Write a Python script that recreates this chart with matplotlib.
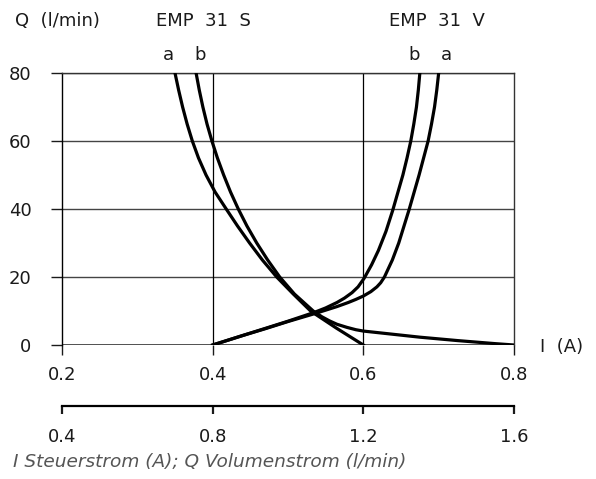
import matplotlib
matplotlib.use("Agg")
import matplotlib.pyplot as plt
from matplotlib import rcParams

rcParams.update({
    "font.family": "DejaVu Sans",
    "axes.linewidth": 1.0,
})

# EMP 31 S (falling curves), current I in A, flow Q in l/min
s_a_i = [0.350, 0.3548, 0.3601, 0.3661, 0.373, 0.3812, 0.3912, 0.4032, 0.418, 0.433, 0.449,
         0.466, 0.485, 0.507, 0.530, 0.547, 0.564, 0.582, 0.600]
s_a_q = [80, 75, 70, 65, 60, 55, 50, 45, 40, 35, 30,
         25, 20, 15, 10, 7.5, 5.0, 2.5, 0]

s_b_i = [0.378, 0.3822, 0.387, 0.3925, 0.399, 0.4063, 0.4146, 0.4237, 0.434, 0.4455, 0.4585,
         0.473, 0.489, 0.5085, 0.5335, 0.545, 0.555, 0.565, 0.578, 0.590, 0.600,
         0.625, 0.650, 0.675, 0.700, 0.725, 0.750, 0.775, 0.800]
s_b_q = [80, 75, 70, 65, 60, 55, 50, 45, 40, 35, 30,
         25, 20, 15, 10, 8.3, 7.1, 6.1, 5.2, 4.5, 4.1,
         3.5, 2.9, 2.3, 1.8, 1.3, 0.85, 0.4, 0.0]

# EMP 31 V (rising curves)
v_a_i = [0.400, 0.440, 0.470, 0.500, 0.535, 0.565, 0.580, 0.590, 0.600, 0.610, 0.618,
         0.623, 0.628, 0.6385, 0.647, 0.654, 0.661, 0.6675, 0.674, 0.680, 0.686,
         0.6905, 0.6945, 0.6975, 0.700]
v_a_q = [0.0, 2.8, 4.8, 6.9, 9.2, 11.3, 12.5, 13.4, 14.4, 15.7, 17.1,
         18.3, 20, 25, 30, 35, 40, 45, 50, 55, 60,
         65, 70, 75, 80]

v_b_i = [0.400, 0.440, 0.470, 0.500, 0.535, 0.550, 0.565, 0.575, 0.585, 0.593, 0.601,
         0.611, 0.620, 0.630, 0.639, 0.646, 0.6525, 0.658, 0.663, 0.667, 0.6705, 0.673, 0.675]
v_b_q = [0.0, 2.8, 4.9, 7.0, 9.6, 10.9, 12.5, 13.8, 15.4, 17.1, 19.6,
         23.6, 27.8, 33.4, 39.6, 45, 50, 55, 60, 65, 70, 75, 80]

x_ticks = [0.2, 0.4, 0.6, 0.8]
y_ticks = [0, 20, 40, 60, 80]
x2_ticks = [0.4, 0.8, 1.2, 1.6]

ink = "#1a1a1a"
fig = plt.figure(figsize=(5.96, 4.79), dpi=100, facecolor="white")
ax = fig.add_axes([62 / 596, 1 - 345 / 479, 452 / 596, 272 / 479])
ax.set_xlim(0.2, 0.8)
ax.set_ylim(0, 80)

for q in y_ticks[1:]:
    ax.axhline(q, color="#444444", lw=1.0, zorder=1)
for i in x_ticks[1:-1]:
    ax.axvline(i, color="black", lw=0.9, zorder=1)
ax.axhline(0, color="#333333", lw=1.2, zorder=1)

for xs, ys in [(s_a_i, s_a_q), (s_b_i, s_b_q), (v_a_i, v_a_q), (v_b_i, v_b_q)]:
    ax.plot(xs, ys, color="black", lw=2.3, solid_joinstyle="round", zorder=3)

for side in ["top", "right"]:
    ax.spines[side].set_color("#333333")
ax.spines["bottom"].set_visible(False)
ax.spines["left"].set_color("black")

ax.set_xticks(x_ticks)
ax.set_xticklabels(["0.2", "0.4", "0.6", "0.8"])
ax.set_yticks(y_ticks)
ax.tick_params(axis="x", direction="out", length=7, width=1.0, pad=8,
               labelsize=13, colors=ink)
ax.tick_params(axis="y", direction="out", length=8, width=1.0, pad=14,
               labelsize=13, colors=ink)

# second current scale below
sec = ax.secondary_xaxis(-61 / 272, functions=(lambda v: 2 * v, lambda v: v / 2))
sec.set_xticks(x2_ticks)
sec.set_xticklabels(["0.4", "0.8", "1.2", "1.6"])
sec.spines["bottom"].set_linewidth(1.6)
sec.tick_params(direction="out", length=6, width=1.6, pad=10, labelsize=13, colors=ink)

fig.text(15 / 596, 1 - 21 / 479, "Q  (l/min)", fontsize=13, color=ink, ha="left", va="center")
fig.text(203 / 596, 1 - 21 / 479, "EMP  31  S", fontsize=13, color=ink, ha="center", va="center")
fig.text(437 / 596, 1 - 21 / 479, "EMP  31  V", fontsize=13, color=ink, ha="center", va="center")
fig.text(168 / 596, 1 - 55 / 479, "a", fontsize=13, color=ink, ha="center", va="center")
fig.text(200 / 596, 1 - 55 / 479, "b", fontsize=13, color=ink, ha="center", va="center")
fig.text(414 / 596, 1 - 55 / 479, "b", fontsize=13, color=ink, ha="center", va="center")
fig.text(446 / 596, 1 - 55 / 479, "a", fontsize=13, color=ink, ha="center", va="center")
fig.text(540 / 596, 1 - 347 / 479, "I  (A)", fontsize=13, color=ink, ha="left", va="center")
fig.text(13 / 596, 1 - 462 / 479, "I Steuerstrom (A); Q Volumenstrom (l/min)",
         fontsize=13.3, color="#555555", style="italic", ha="left", va="center")

fig.savefig("out.png", dpi=100)
plt.close(fig)
